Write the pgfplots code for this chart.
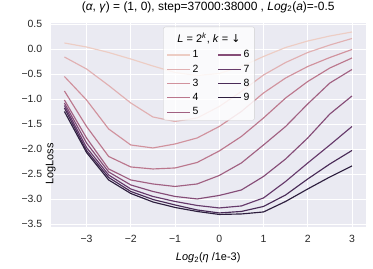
\documentclass[border=0pt]{standalone}
\usepackage{pgfplots}
\pgfplotsset{compat=1.18}
\usepackage{pgfplotstable}
\usepackage{fontspec}
\setmainfont{Liberation Sans}
\newfontfamily\dejavu{DejaVu Sans}
\definecolor{bgc}{HTML}{EAEAF2}
\definecolor{h1}{RGB}{237,205,196}
\definecolor{h2}{RGB}{225,176,178}
\definecolor{h3}{RGB}{209,146,157}
\definecolor{h4}{RGB}{187,119,141}
\definecolor{h5}{RGB}{161,97,130}
\definecolor{h6}{RGB}{133,76,119}
\definecolor{h7}{RGB}{102,58,107}
\definecolor{h8}{RGB}{73,43,87}
\definecolor{h9}{RGB}{45,30,62}
\pgfplotstableread{
x c1 c2 c3 c4 c5 c6 c7 c8 c9
-3.5 0.12 -0.16 -0.55 -0.84 -1.02 -1.08 -1.13 -1.18 -1.25
-3.0 0.04 -0.40 -1.02 -1.55 -1.78 -1.88 -1.97 -2.03 -2.07
-2.5 -0.07 -0.73 -1.60 -2.15 -2.40 -2.46 -2.52 -2.57 -2.62
-2.0 -0.20 -1.08 -1.92 -2.36 -2.62 -2.72 -2.80 -2.85 -2.89
-1.5 -0.34 -1.36 -1.98 -2.40 -2.70 -2.85 -2.95 -3.01 -3.06
-1.0 -0.47 -1.45 -1.90 -2.38 -2.75 -2.95 -3.05 -3.12 -3.17
-0.5 -0.53 -1.38 -1.78 -2.27 -2.70 -3.00 -3.13 -3.22 -3.25
0.0 -0.49 -1.15 -1.55 -2.04 -2.53 -2.93 -3.18 -3.28 -3.31
0.5 -0.35 -0.85 -1.25 -1.75 -2.28 -2.82 -3.14 -3.25 -3.30
1.0 -0.15 -0.52 -0.88 -1.38 -1.92 -2.55 -2.98 -3.15 -3.26
1.5 0.03 -0.27 -0.58 -0.98 -1.55 -2.20 -2.65 -2.92 -3.05
2.0 0.16 -0.07 -0.35 -0.65 -1.10 -1.78 -2.28 -2.60 -2.80
2.5 0.26 0.08 -0.17 -0.38 -0.68 -1.30 -1.92 -2.30 -2.56
3.0 0.34 0.21 -0.01 -0.18 -0.41 -0.94 -1.55 -2.03 -2.34
}\datatable
\begin{document}
\begin{tikzpicture}
\begin{axis}[
  at={(0,0)}, anchor=south west,
  scale only axis, width=315bp, height=203.7bp,
  xmin=-3.81, xmax=3.31, ymin=-3.555, ymax=0.52,
  axis background/.style={fill=bgc},
  axis line style={draw=none},
  major tick style={draw=none},
  grid=major,
  major grid style={white, line width=0.9bp},
  xtick={-3,-2,-1,0,1,2,3},
  xticklabels={−3,−2,−1,0,1,2,3},
  ytick={0.5,0,-0.5,-1,-1.5,-2,-2.5,-3,-3.5},
  yticklabels={0.5,0.0,−0.5,−1.0,−1.5,−2.0,−2.5,−3.0,−3.5},
  tick label style={font=\fontsize{10.5}{12.6}\selectfont, text=black!85},
  xticklabel style={yshift=-5bp},
  yticklabel style={xshift=-5bp},
  xlabel={\textit{Log}\textsubscript{2}(\textit{η} /1e-3)},
  ylabel={LogLoss},
  label style={font=\fontsize{11}{13}\selectfont},
  xlabel style={at={(axis description cs:0.5,0)}, anchor=center, yshift=-31bp},
  ylabel style={at={(axis description cs:0,0.5)}, anchor=center, xshift=-39bp},
  title={(\textit{α}, \textit{γ}) = (1, 0), step=37000:38000 , \textit{Log}\textsubscript{2}(\textit{a})=-0.5},
  title style={font=\fontsize{12}{14}\selectfont, at={(axis description cs:0.5,1)}, anchor=center, yshift=10bp},
  legend columns=2,
  legend cell align=left,
  legend image code/.code={\draw[#1, line width=1.15bp] (0bp,0bp) -- (23bp,0bp);},
  legend style={at={(0.5025,0.982)}, anchor=north, draw=black!18, fill=white, fill opacity=0.8, text opacity=1, rounded corners=2bp, font=\fontsize{10.5}{12.6}\selectfont, row sep=1.5bp, inner xsep=3bp, inner ysep=1.8bp,
    /tikz/every even column/.append style={column sep=17bp}},
  every axis plot/.append style={line width=1.15bp},
]
\addplot[h1, forget plot] table[x=x,y=c1]{\datatable};
\addplot[h2, forget plot] table[x=x,y=c2]{\datatable};
\addplot[h3, forget plot] table[x=x,y=c3]{\datatable};
\addplot[h4, forget plot] table[x=x,y=c4]{\datatable};
\addplot[h5, forget plot] table[x=x,y=c5]{\datatable};
\addplot[h6, forget plot] table[x=x,y=c6]{\datatable};
\addplot[h7, forget plot] table[x=x,y=c7]{\datatable};
\addplot[h8, forget plot] table[x=x,y=c8]{\datatable};
\addplot[h9, forget plot] table[x=x,y=c9]{\datatable};
\addlegendimage{empty legend}\addlegendentry{\rule[-4bp]{0pt}{17bp}}
\addlegendimage{empty legend}\addlegendentry{\rule[-4bp]{0pt}{17bp}}
\addlegendimage{h1}\addlegendentry{1}
\addlegendimage{h6}\addlegendentry{6}
\addlegendimage{h2}\addlegendentry{2}
\addlegendimage{h7}\addlegendentry{7}
\addlegendimage{h3}\addlegendentry{3}
\addlegendimage{h8}\addlegendentry{8}
\addlegendimage{h4}\addlegendentry{4}
\addlegendimage{h9}\addlegendentry{9}
\addlegendimage{h5}\addlegendentry{5}
\end{axis}
\node[font=\fontsize{11}{13}\selectfont, anchor=center] at (158.3bp,188.2bp) {\textit{L} = 2\textsuperscript{\textit{k}}, \textit{k} = {\dejavu ↓}};
\pgfresetboundingbox
\useasboundingbox (-50.7bp,-42.3bp) rectangle (322.3bp,226.7bp);
\end{tikzpicture}
\end{document}
